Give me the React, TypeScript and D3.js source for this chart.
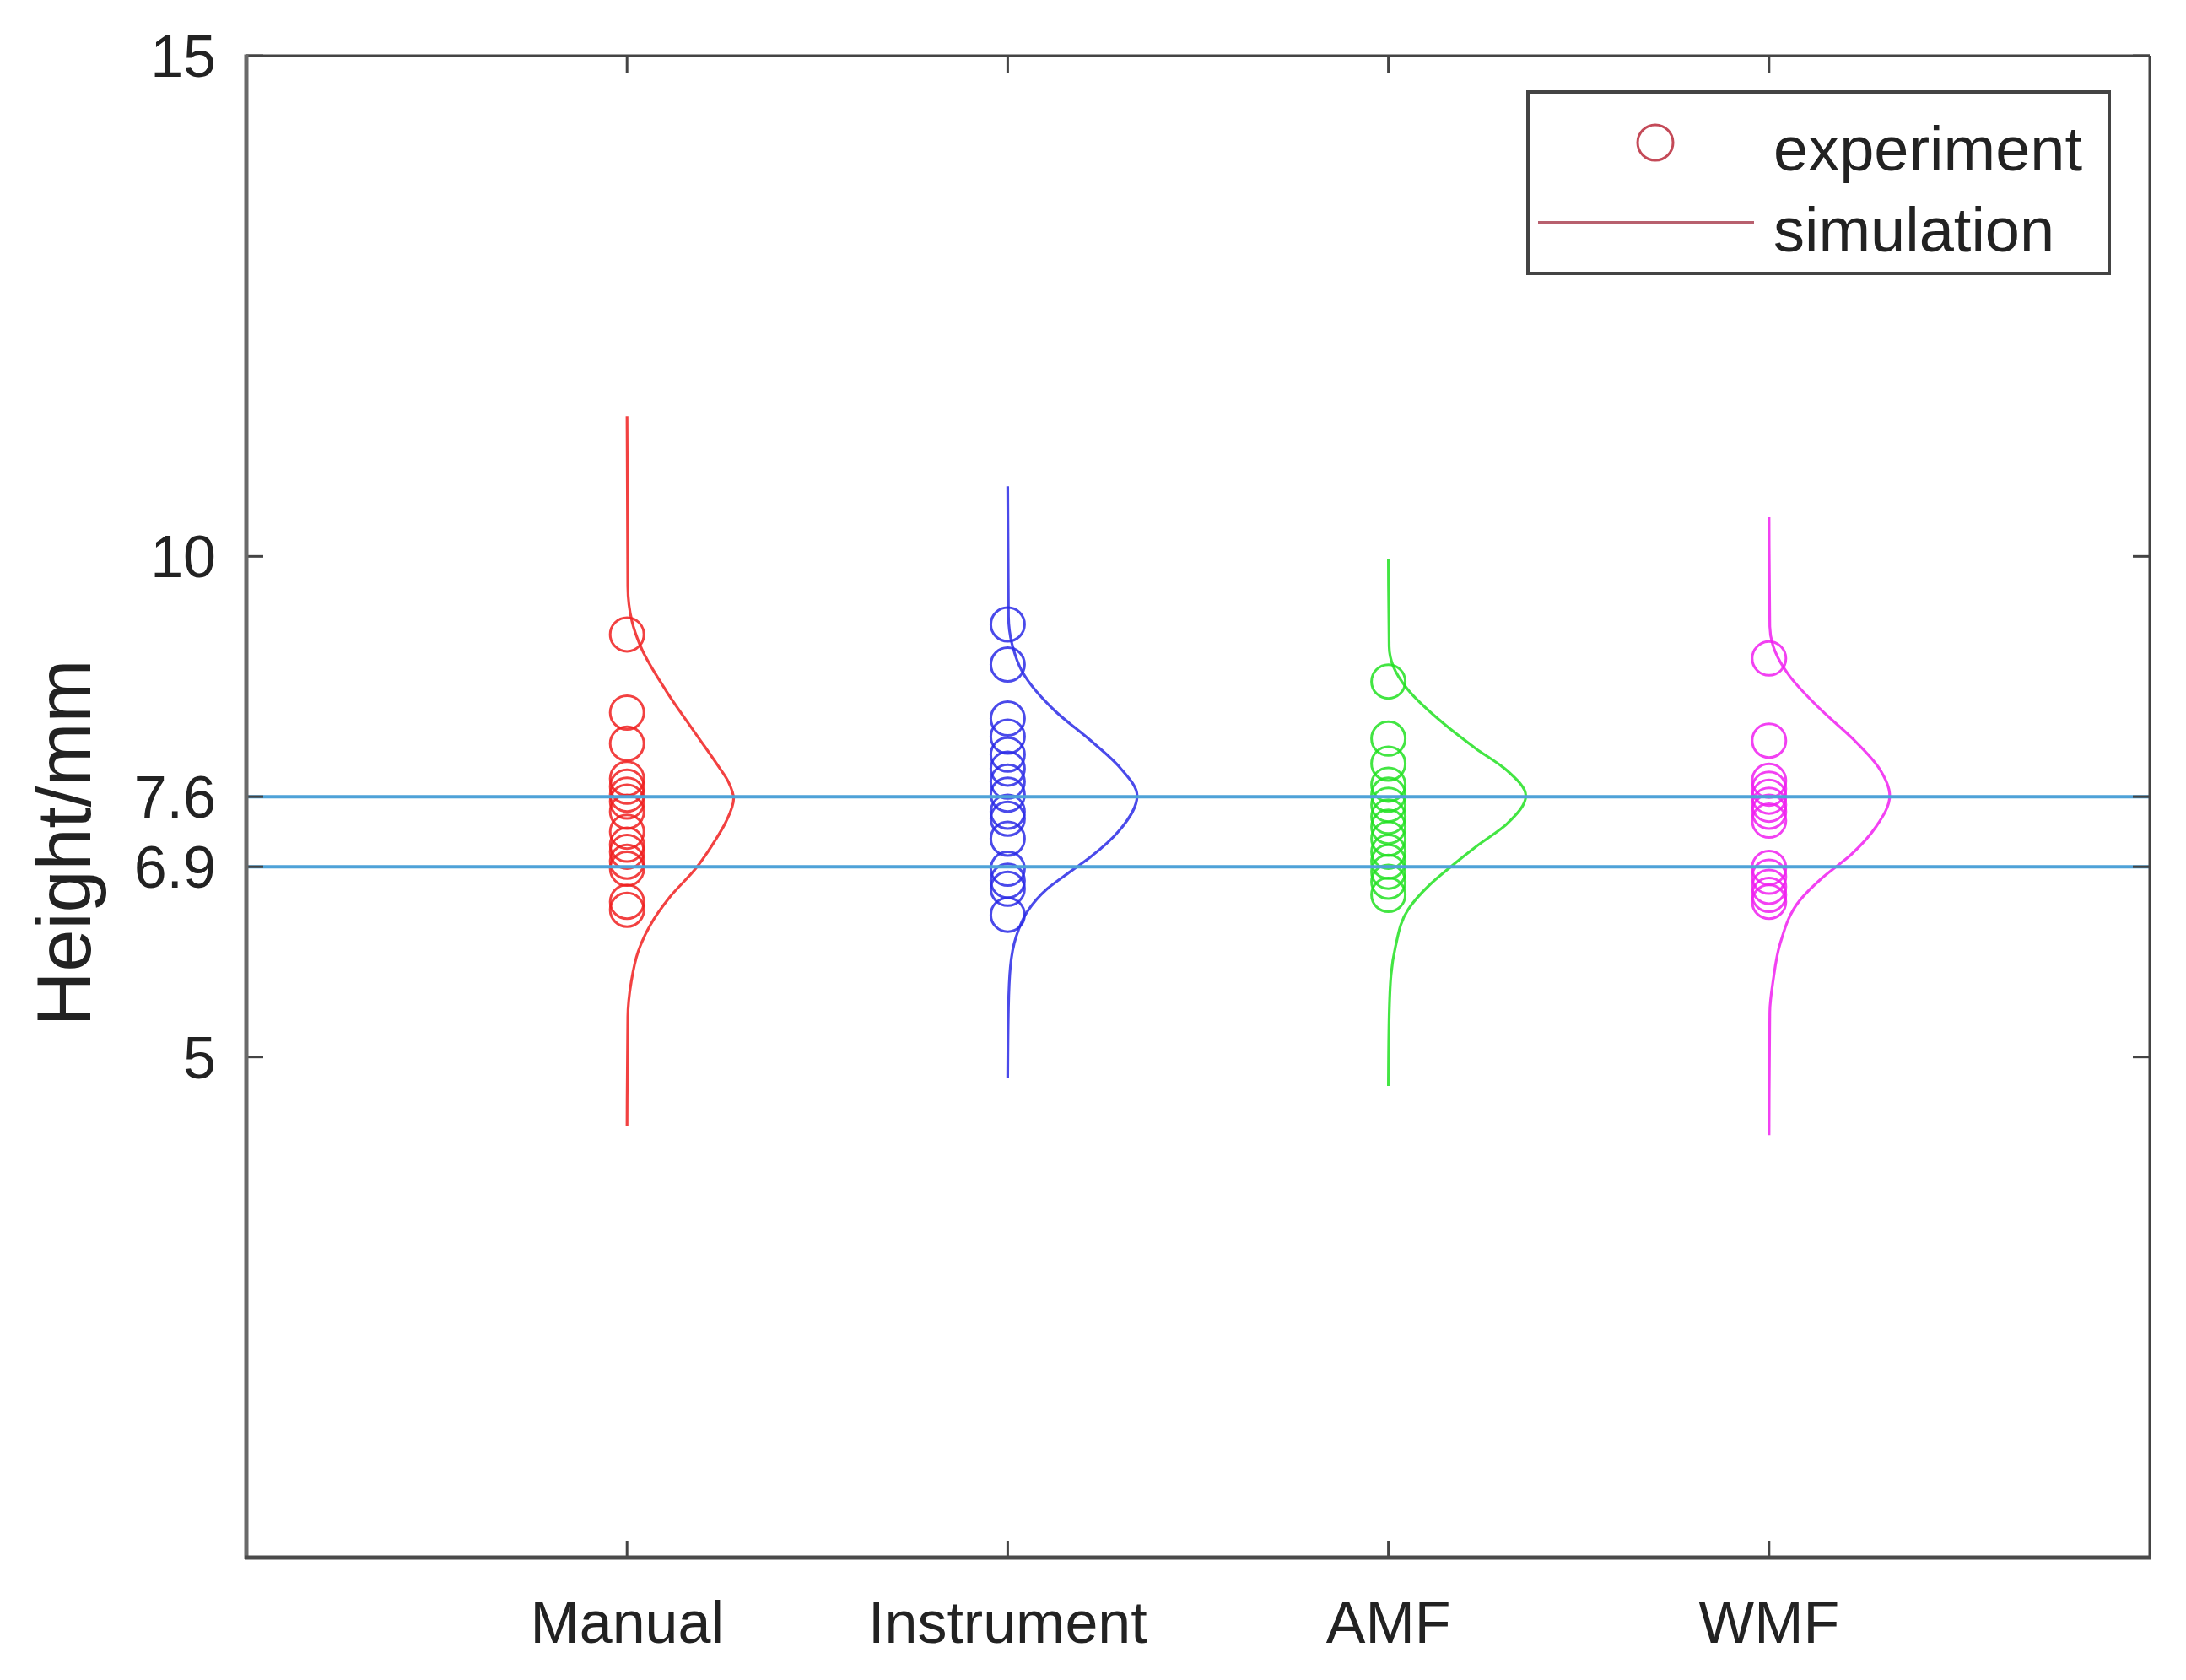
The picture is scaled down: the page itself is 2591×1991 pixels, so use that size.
import * as d3 from 'd3';

// groups along the x axis
const categories = ['Manual', 'Instrument', 'AMF', 'WMF'];
const groupColors = ['#f02020', '#2a2ae6', '#22e022', '#f020f0'];

// experiment: measured heights (mm)
const manualHeights = [9.22, 8.44, 8.13, 7.78, 7.7, 7.62, 7.55, 7.45, 7.25, 7.12, 7.05, 6.95, 6.88, 6.55, 6.47];
const instrumentHeights = [9.32, 8.92, 8.38, 8.2, 8.02, 7.88, 7.75, 7.62, 7.45, 7.38, 7.18, 6.88, 6.76, 6.68, 6.42];
const amfHeights = [8.75, 8.18, 7.93, 7.72, 7.62, 7.52, 7.4, 7.3, 7.18, 7.05, 6.95, 6.85, 6.75, 6.62];
const wmfHeights = [8.98, 8.16, 7.76, 7.68, 7.6, 7.52, 7.45, 7.36, 6.89, 6.8, 6.7, 6.62, 6.55];

// simulation: [height, density offset in x-axis units]
const manualCurve: [number, number][] = [
    [11.4, 0], [9.7, 0.002], [9.35, 0.013], [9.08, 0.038], [8.65, 0.104], [8.22, 0.182],
    [7.92, 0.237], [7.75, 0.266], [7.58, 0.28], [7.35, 0.26], [7.16, 0.231], [6.88, 0.18],
    [6.6, 0.113], [6.31, 0.06], [6.05, 0.029], [5.75, 0.011], [5.4, 0.002], [4.31, 0],
];
const instrumentCurve: [number, number][] = [
    [10.7, 0], [9.4, 0.002], [9.1, 0.013], [8.85, 0.038], [8.45, 0.126], [8.17, 0.215],
    [7.89, 0.295], [7.61, 0.34], [7.27, 0.295], [6.99, 0.215], [6.85, 0.164], [6.68, 0.104],
    [6.45, 0.051], [6.2, 0.022], [5.9, 0.007], [5.5, 0.002], [4.79, 0],
];
const amfCurve: [number, number][] = [
    [9.97, 0], [9.1, 0.002], [8.9, 0.013], [8.68, 0.049], [8.34, 0.142], [8.08, 0.23],
    [7.86, 0.312], [7.61, 0.361], [7.33, 0.312], [7.1, 0.23], [6.9, 0.164], [6.71, 0.106],
    [6.48, 0.053], [6.09, 0.018], [5.82, 0.007], [5.4, 0.002], [4.71, 0],
];
const wmfCurve: [number, number][] = [
    [10.39, 0], [9.3, 0.002], [9.05, 0.016], [8.82, 0.051], [8.48, 0.133], [8.17, 0.222],
    [7.89, 0.288], [7.61, 0.317], [7.3, 0.281], [7.02, 0.215], [6.79, 0.14], [6.57, 0.082],
    [6.13, 0.029], [5.77, 0.011], [5.45, 0.002], [4.22, 0],
];

const yTicks = [5, 6.9, 7.6, 10, 15];
const refLines = [7.6, 6.9];
const legendLabels = ['experiment', 'simulation'];

const heights = [manualHeights, instrumentHeights, amfHeights, wmfHeights];
const curves = [manualCurve, instrumentCurve, amfCurve, wmfCurve];

const W = 2591;
const H = 1991;
const FONT = '"Liberation Sans", Arial, Helvetica, sans-serif';
const FS = 70;

export default function App() {
    const x = d3.scaleLinear().domain([0, 5]).range([292, 2548]);
    const y = d3.scaleLinear().domain([0, 15]).range([1846, 66]);
    const [x0, x1] = x.range();
    const [yb, yt] = y.range();
    const tick = 20;

    const curvePath = (ci: number) =>
        d3
            .line<[number, number]>()
            .x((d) => x(ci + 1 + d[1]))
            .y((d) => y(d[0]))
            .curve(d3.curveMonotoneY)(curves[ci]) ?? '';

    const xTicks = categories.map((_, i) => i + 1);

    return (
        <svg
            width={W}
            height={H}
            viewBox={`0 0 ${W} ${H}`}
            style={{ position: 'absolute', left: 0, top: 0, background: '#fff' }}
        >
            <rect x={0} y={0} width={W} height={H} fill="#fff" />

            {/* simulation curves */}
            {categories.map((c, i) => (
                <path key={c} d={curvePath(i)} fill="none" stroke={groupColors[i]} strokeWidth={3.2} strokeOpacity={0.85} />
            ))}

            {/* experiment points */}
            {heights.map((hs, i) =>
                hs.map((v, j) => (
                    <circle
                        key={`${i}-${j}`}
                        cx={x(i + 1)}
                        cy={y(v)}
                        r={20}
                        fill="none"
                        stroke={groupColors[i]}
                        strokeWidth={3}
                        strokeOpacity={0.85}
                    />
                ))
            )}

            {/* reference lines */}
            {refLines.map((v) => (
                <line key={v} x1={x0} x2={x1} y1={y(v)} y2={y(v)} stroke="#4ea2d8" strokeWidth={4} />
            ))}

            {/* ticks */}
            <g stroke="#444" strokeWidth={3}>
                {yTicks.map((t) => (
                    <g key={t}>
                        <line x1={x0} x2={x0 + tick} y1={y(t)} y2={y(t)} />
                        <line x1={x1} x2={x1 - tick} y1={y(t)} y2={y(t)} />
                    </g>
                ))}
                {xTicks.map((t) => (
                    <g key={t}>
                        <line x1={x(t)} x2={x(t)} y1={yb} y2={yb - tick} />
                        <line x1={x(t)} x2={x(t)} y1={yt} y2={yt + tick} />
                    </g>
                ))}
            </g>

            {/* frame */}
            <line x1={x0} x2={x1} y1={yt} y2={yt} stroke="#444" strokeWidth={3} />
            <line x1={x1} x2={x1} y1={yt} y2={yb} stroke="#444" strokeWidth={3} />
            <line x1={x0} x2={x0} y1={yt - 1.5} y2={yb + 2} stroke="#6a6a6a" strokeWidth={5} />
            <line x1={x0 - 2} x2={x1 + 1.5} y1={yb} y2={yb} stroke="#4a4a4a" strokeWidth={5} />

            {/* tick labels */}
            <g fontFamily={FONT} fontSize={FS} fill="#222">
                {yTicks.map((t) => (
                    <text key={t} x={x0 - 36} y={y(t) + 25} textAnchor="end">
                        {t}
                    </text>
                ))}
                {categories.map((c, i) => (
                    <text key={c} x={x(i + 1)} y={1947} textAnchor="middle">
                        {c}
                    </text>
                ))}
            </g>

            {/* y label */}
            <text
                transform={`translate(107, ${(yt + yb) / 2 + 43}) rotate(-90)`}
                textAnchor="middle"
                fontFamily={FONT}
                fontSize={90}
                fill="#222"
            >
                Height/mm
            </text>

            {/* legend */}
            <g>
                <rect x={1811} y={109} width={689} height={215} fill="#fff" stroke="#444" strokeWidth={4} />
                <circle cx={1962} cy={169} r={21} fill="none" stroke="#c44a58" strokeWidth={3} />
                <line x1={1823} x2={2079} y1={264} y2={264} stroke="#b8606e" strokeWidth={4} />
                <g fontFamily={FONT} fontSize={74} fill="#222">
                    <text x={2102} y={202}>{legendLabels[0]}</text>
                    <text x={2102} y={298}>{legendLabels[1]}</text>
                </g>
            </g>
        </svg>
    );
}
